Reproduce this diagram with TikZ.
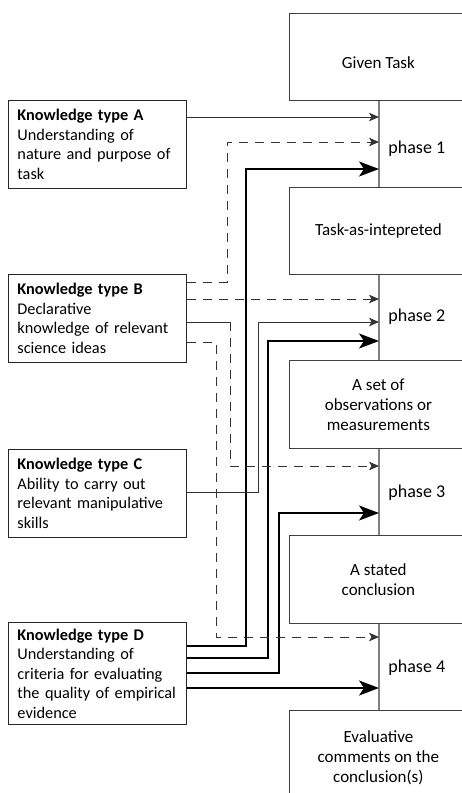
\documentclass[tikz,border=0pt]{standalone}
\usepackage{fontspec}
\setmainfont{Carlito}
\usetikzlibrary{arrows.meta,positioning,calc}
\begin{document}
\begin{tikzpicture}[x=1pt, y=-1pt, semithick, font=\fontsize{16.3}{19.5}\selectfont]
\tikzstyle{kbox}=[draw=black!85, line width=0.9pt, anchor=north west, align=left, text width=160pt, inner xsep=9pt, minimum height=88pt]
\tikzstyle{obox}=[draw=black!75, line width=0.8pt, anchor=north west, align=center, minimum width=178pt, minimum height=87pt, font=\fontsize{17}{20}\selectfont]
\tikzstyle{phase}=[anchor=west, minimum width=75pt, inner sep=0pt, font=\fontsize{18}{20}\selectfont]
\tikzstyle{phaseline}=[draw=black!50, line width=1.3pt]
\tikzstyle{weakline}=[draw=black!80, line width=0.9pt]
\tikzstyle{weak}=[weakline, -{Stealth[length=10pt,width=8.5pt,inset=2.5pt]}]
\tikzstyle{dashlink}=[weak, dash pattern=on 9pt off 7pt]
\tikzstyle{strong}=[draw=black, line width=1.8pt, -{Stealth[length=20pt,width=15pt,inset=5pt]}]
\useasboundingbox (0,0) rectangle (462,793);
% task stages
\node[obox, text height=24pt] (given) at (289,13) {Given Task};
\node[obox] (interp) at (289,187) {Task-as-intepreted};
\node[obox, minimum height=88pt] (obs) at (289,360) {A set of\\observations or\\measurements};
\node[obox, minimum height=88pt] (concl) at (289,535) {A stated\\conclusion};
\node[obox, minimum height=95pt] (evalc) at (289,710) {Evaluative\\comments on the\\conclusion(s)};
% phases
\node[phase] (p1) at (379,149) {phase 1};
\node[phase] (p2) at (379,317) {phase 2};
\node[phase] (p3) at (379,493) {phase 3};
\node[phase] (p4) at (379,668) {phase 4};
\draw[phaseline] (p1.west |- given.south) -- (p1.west |- interp.north);
\draw[phaseline] (p2.west |- interp.south) -- (p2.west |- obs.north);
\draw[phaseline] (p3.west |- obs.south) -- (p3.west |- concl.north);
\draw[phaseline] (p4.west |- concl.south) -- (p4.west |- evalc.north);
% knowledge types
\node[kbox] (ka) at (8,100) {\textbf{Knowledge type A}\\Understanding of\\nature and purpose of\\task};
\node[kbox] (kb) at (8,274) {\textbf{Knowledge type B}\\Declarative\\knowledge of relevant\\science ideas};
\node[kbox] (kc) at (8,449) {\textbf{Knowledge type C}\\Ability to carry out\\relevant manipulative\\skills};
\node[kbox, minimum height=102pt] (kd) at (8,622) {\textbf{Knowledge type D}\\Understanding of\\criteria for evaluating\\the quality of empirical\\evidence};
% into phase 1
\draw[weak] (ka.east |- 0,117) -- (p1.west |- 0,117);
\draw[dashlink] (kb.east |- 0,282) -| (227,142) -- (p1.west |- 0,142);
\draw[strong] (kd.east |- 0,646) -| (246,169) -- (p1.west |- 0,169);
% into phase 2
\draw[dashlink] (kb.east |- 0,299) -- (p2.west |- 0,299);
\draw[weak] (kc.east |- 0,492) -| (258,322) -- (p2.west |- 0,322);
\draw[strong] (kd.east |- 0,658) -| (268,341) -- (p2.west |- 0,341);
% into phase 3
\coordinate (bturn) at (230,322);
\draw[weakline] (kb.east |- bturn) -- (bturn);
\draw[dashlink] (bturn) |- (p3.west |- 0,466);
\draw[strong] (kd.east |- 0,673) -| (279,513) -- (p3.west |- 0,513);
% into phase 4
\draw[dashlink] (kb.east |- 0,342) -| (216,637) -- (p4.west |- 0,637);
\draw[strong] (kd.east |- 0,688) -- (p4.west |- 0,688);
\end{tikzpicture}
\end{document}
